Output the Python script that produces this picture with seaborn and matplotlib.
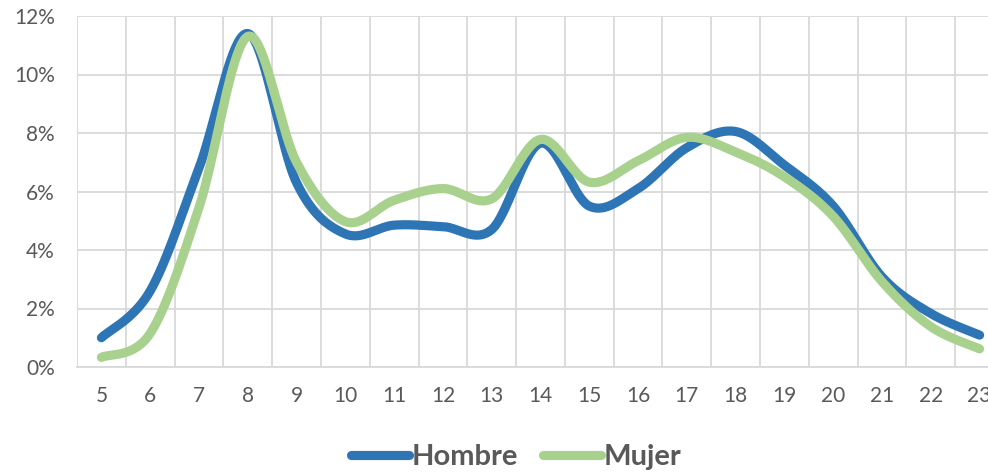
import numpy as np
import pandas as pd
import matplotlib
matplotlib.use("Agg")
import matplotlib.pyplot as plt
from matplotlib.lines import Line2D
from matplotlib.ticker import FuncFormatter
import seaborn as sns

hours = [5, 6, 7, 8, 9, 10, 11, 12, 13, 14, 15, 16, 17, 18, 19, 20, 21, 22, 23]
hombre = [1.0, 2.6, 6.8, 11.4, 6.3, 4.55, 4.85, 4.8, 4.7, 7.65, 5.5, 6.1, 7.5, 8.05, 6.9, 5.5, 3.08, 1.83, 1.09]
mujer = [0.33, 1.15, 5.45, 11.3, 7.0, 4.97, 5.7, 6.1, 5.75, 7.78, 6.32, 7.05, 7.85, 7.35, 6.5, 5.15, 2.92, 1.38, 0.62]
series_names = ["Hombre", "Mujer"]
colors = {"Hombre": "#2E75B6", "Mujer": "#A9D18E"}
y_ticks = [0, 2, 4, 6, 8, 10, 12]


def smooth(x, y, n=40):
    """Excel-like smoothed line: Catmull-Rom cubic Bezier through points."""
    x = np.asarray(x, float)
    y = np.asarray(y, float)
    P = np.column_stack([x, y])
    ext = np.vstack([P[0], P, P[-1]])
    out = []
    t = np.linspace(0, 1, n)[:, None]
    for i in range(len(P) - 1):
        p0, p1, p2, p3 = ext[i], ext[i + 1], ext[i + 2], ext[i + 3]
        c1 = p1 + (p2 - p0) / 6.0
        c2 = p2 - (p3 - p1) / 6.0
        seg = ((1 - t) ** 3) * p1 + 3 * ((1 - t) ** 2) * t * c1 + 3 * (1 - t) * t ** 2 * c2 + t ** 3 * p2
        out.append(seg if i == 0 else seg[1:])
    S = np.vstack(out)
    return S[:, 0], S[:, 1]


frames = []
for name, vals in zip(series_names, [hombre, mujer]):
    sx, sy = smooth(hours, vals)
    frames.append(pd.DataFrame({"x": sx, "y": sy, "serie": name}))
df = pd.concat(frames, ignore_index=True)

sns.set_theme(style="white")
plt.rcParams["font.family"] = ["Lato", "DejaVu Sans"]

fig = plt.figure(figsize=(9.88, 4.72), dpi=100)
ax = fig.add_axes([77 / 988, 1 - 367 / 472, 927 / 988, (367 - 16) / 472])

sns.lineplot(data=df, x="x", y="y", hue="serie", palette=colors, units="serie",
             estimator=None, sort=False, linewidth=6.6, ax=ax, legend=False)
for ln in ax.get_lines():
    ln.set_solid_capstyle("round")
    ln.set_solid_joinstyle("round")

ax.set_xlim(4.5, 23.5)
ax.set_ylim(0, 12)
ax.set_xticks(hours)
ax.set_xticks(np.arange(4.5, 24.0, 1.0), minor=True)
ax.set_yticks(y_ticks)
ax.yaxis.set_major_formatter(FuncFormatter(lambda v, p: f"{v:.0f}%"))
ax.grid(False)
ax.grid(which="minor", axis="x", color="#d9d9d9", linewidth=1.3)
ax.grid(which="major", axis="y", color="#d9d9d9", linewidth=1.3)
ax.set_axisbelow(True)
for s in ax.spines.values():
    s.set_visible(False)
ax.spines["bottom"].set_visible(True)
ax.spines["bottom"].set_color("#d9d9d9")
ax.spines["bottom"].set_linewidth(1.3)
ax.tick_params(axis="both", which="both", length=0, labelsize=15, colors="#595959")
ax.tick_params(axis="x", pad=14)
ax.tick_params(axis="y", pad=16)
ax.set_xlabel("")
ax.set_ylabel("")

handles = [Line2D([0], [0], color=colors[n], linewidth=6.6, solid_capstyle="round") for n in series_names]
leg = fig.legend(handles, series_names, loc="center", bbox_to_anchor=(516 / 988, 1 - 457 / 472),
                 ncol=2, frameon=False, handlelength=2.0, handletextpad=0.08, columnspacing=0.85,
                 prop={"family": ["Lato", "DejaVu Sans"], "weight": "bold", "size": 21})
for t in leg.get_texts():
    t.set_color("#595959")

fig.savefig("out.png", dpi=100)
